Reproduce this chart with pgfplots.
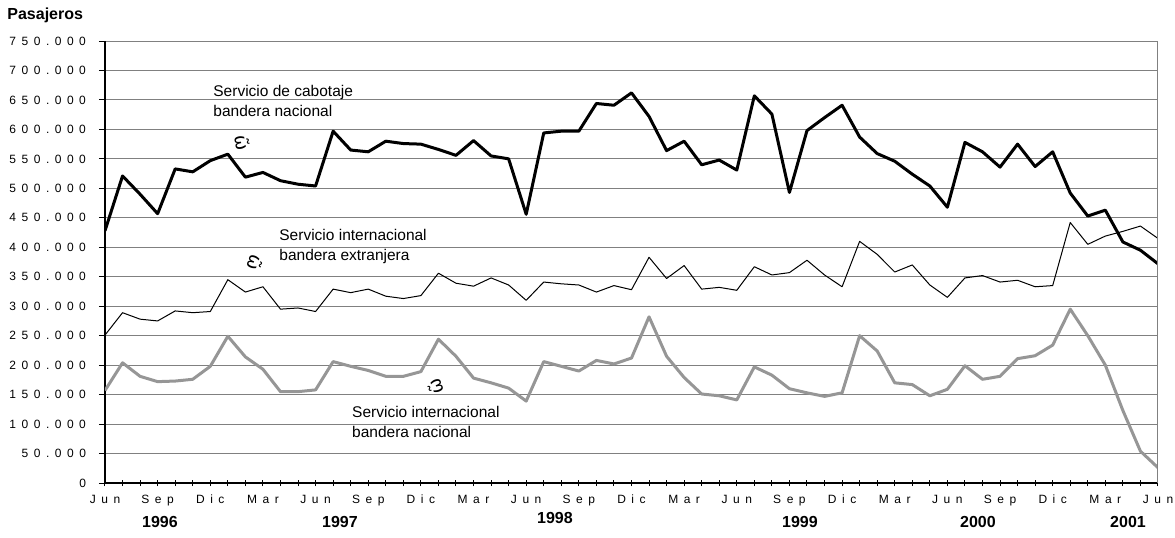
\documentclass[border=0pt]{standalone}
\usepackage{pgfplots}
\pgfplotsset{compat=1.18}
\usepackage{pgfplotstable}
\usepackage{fontspec}
\setmainfont{Liberation Sans}
\newfontfamily\spaced[LetterSpace=46]{Liberation Sans}
\newfontfamily\dejavu{DejaVu Sans}
\definecolor{gline}{RGB}{150,150,150}
\definecolor{ggrid}{RGB}{128,128,128}

\pgfplotstableread{
m cab ext nac
0 428000 251000 157000
1 521000 289000 204000
2 490000 278000 181000
3 457000 275000 172000
4 533000 292000 173000
5 528000 289000 176000
6 547000 291000 198000
7 558000 345000 249000
8 519000 324000 214000
9 527000 333000 193000
10 513000 295000 155000
11 507000 297000 155000
12 504000 291000 158000
13 597000 329000 206000
14 565000 323000 198000
15 562000 329000 191000
16 580000 317000 181000
17 576000 313000 181000
18 575000 318000 189000
19 566000 356000 244000
20 556000 339000 215000
21 581000 334000 178000
22 555000 348000 170000
23 550000 336000 161000
24 456000 310000 139000
25 594000 341000 206000
26 597000 338000 198000
27 597000 336000 190000
28 644000 324000 208000
29 641000 335000 202000
30 662000 328000 212000
31 622000 383000 282000
32 564000 347000 215000
33 580000 369000 179000
34 540000 329000 151000
35 548000 332000 148000
36 531000 327000 141000
37 657000 367000 197000
38 626000 353000 183000
39 493000 357000 160000
40 598000 378000 153000
41 620000 353000 147000
42 641000 333000 153000
43 587000 410000 250000
44 559000 388000 224000
45 546000 358000 170000
46 524000 370000 167000
47 504000 336000 148000
48 468000 315000 159000
49 578000 348000 199000
50 562000 352000 176000
51 536000 341000 181000
52 575000 344000 211000
53 537000 333000 216000
54 562000 335000 234000
55 492000 442000 295000
56 453000 405000 250000
57 463000 419000 200000
58 409000 427000 123000
59 395000 436000 54000
60 372000 415000 26000
}\datatable

\begin{document}
\begin{tikzpicture}
\useasboundingbox (0,0) rectangle (587.5pt,-268.5pt);
\begin{axis}[
  at={(52.5pt,-241.5pt)}, anchor=south west,
  scale only axis, width=526.5pt, height=221pt,
  xmin=0, xmax=60, ymin=0, ymax=750000,
  axis x line*=bottom, axis y line*=left,
  axis line style={black, line width=0.75pt, -},
  xtick={0,3,...,60}, minor xtick={0,...,60},
  xticklabels={Jun,Sep,Dic,Mar,Jun,Sep,Dic,Mar,Jun,Sep,Dic,Mar,Jun,Sep,Dic,Mar,Jun,Sep,Dic,Mar,Jun},
  ytick={0,50000,...,750000},
  yticklabels={0,50.000,100.000,150.000,200.000,250.000,300.000,350.000,400.000,450.000,500.000,550.000,600.000,650.000,700.000,750.000},
  scaled y ticks=false,
  ymajorgrids, grid style={ggrid, line width=0.5pt},
  xtick align=center, ytick align=outside,
  major tick length=3pt, minor tick length=3pt,
  every tick/.style={black, line width=0.5pt},
  minor tick style={black, line width=0.5pt},
  tick label style={font=\spaced\fontsize{6}{6.5}\selectfont},
  xticklabel style={yshift=-1pt},
  yticklabel style={xshift=-3pt},
  after end axis/.code={\draw[ggrid, line width=0.5pt] (rel axis cs:1,0) -- (rel axis cs:1,1);},
]
\addplot[black, line width=1.5pt, line join=round] table[x=m, y=cab] {\datatable};
\addplot[black, line width=0.5pt, line join=round] table[x=m, y=ext] {\datatable};
\addplot[gline, line width=1.5pt, line join=round] table[x=m, y=nac] {\datatable};
\end{axis}
\node[anchor=west, font=\bfseries\fontsize{8}{9}\selectfont, inner sep=0pt] at (3.5pt,-7.5pt) {Pasajeros};
\begin{scope}[every node/.style={font=\fontsize{7.75}{10}\selectfont, align=left, anchor=west, inner sep=0pt}]
\node at (106.5pt,-50.35pt) {Servicio de cabotaje\\bandera nacional};
\node at (139.5pt,-123.2pt) {Servicio internacional\\bandera extranjera};
\node at (175.9pt,-211.1pt) {Servicio internacional\\bandera nacional};
\end{scope}
\begin{scope}[every node/.style={font=\bfseries\fontsize{8}{9}\selectfont, inner sep=0pt}]
\node at (80pt,-261pt) {1996};
\node at (170pt,-261pt) {1997};
\node at (277.5pt,-259pt) {1998};
\node at (400pt,-261pt) {1999};
\node at (489pt,-261pt) {2000};
\node at (564pt,-261pt) {2001};
\end{scope}
\node[font=\dejavu\fontsize{9}{10}\selectfont, rotate=-80, inner sep=0pt] at (121.5pt,-71.5pt) {ῶ};
\node[font=\dejavu\fontsize{9}{10}\selectfont, rotate=-110, inner sep=0pt] at (127.5pt,-131.5pt) {ῶ};
\node[font=\dejavu\fontsize{9}{10}\selectfont, rotate=110, inner sep=0pt] at (217.5pt,-193.3pt) {ῶ};
\end{tikzpicture}
\end{document}
